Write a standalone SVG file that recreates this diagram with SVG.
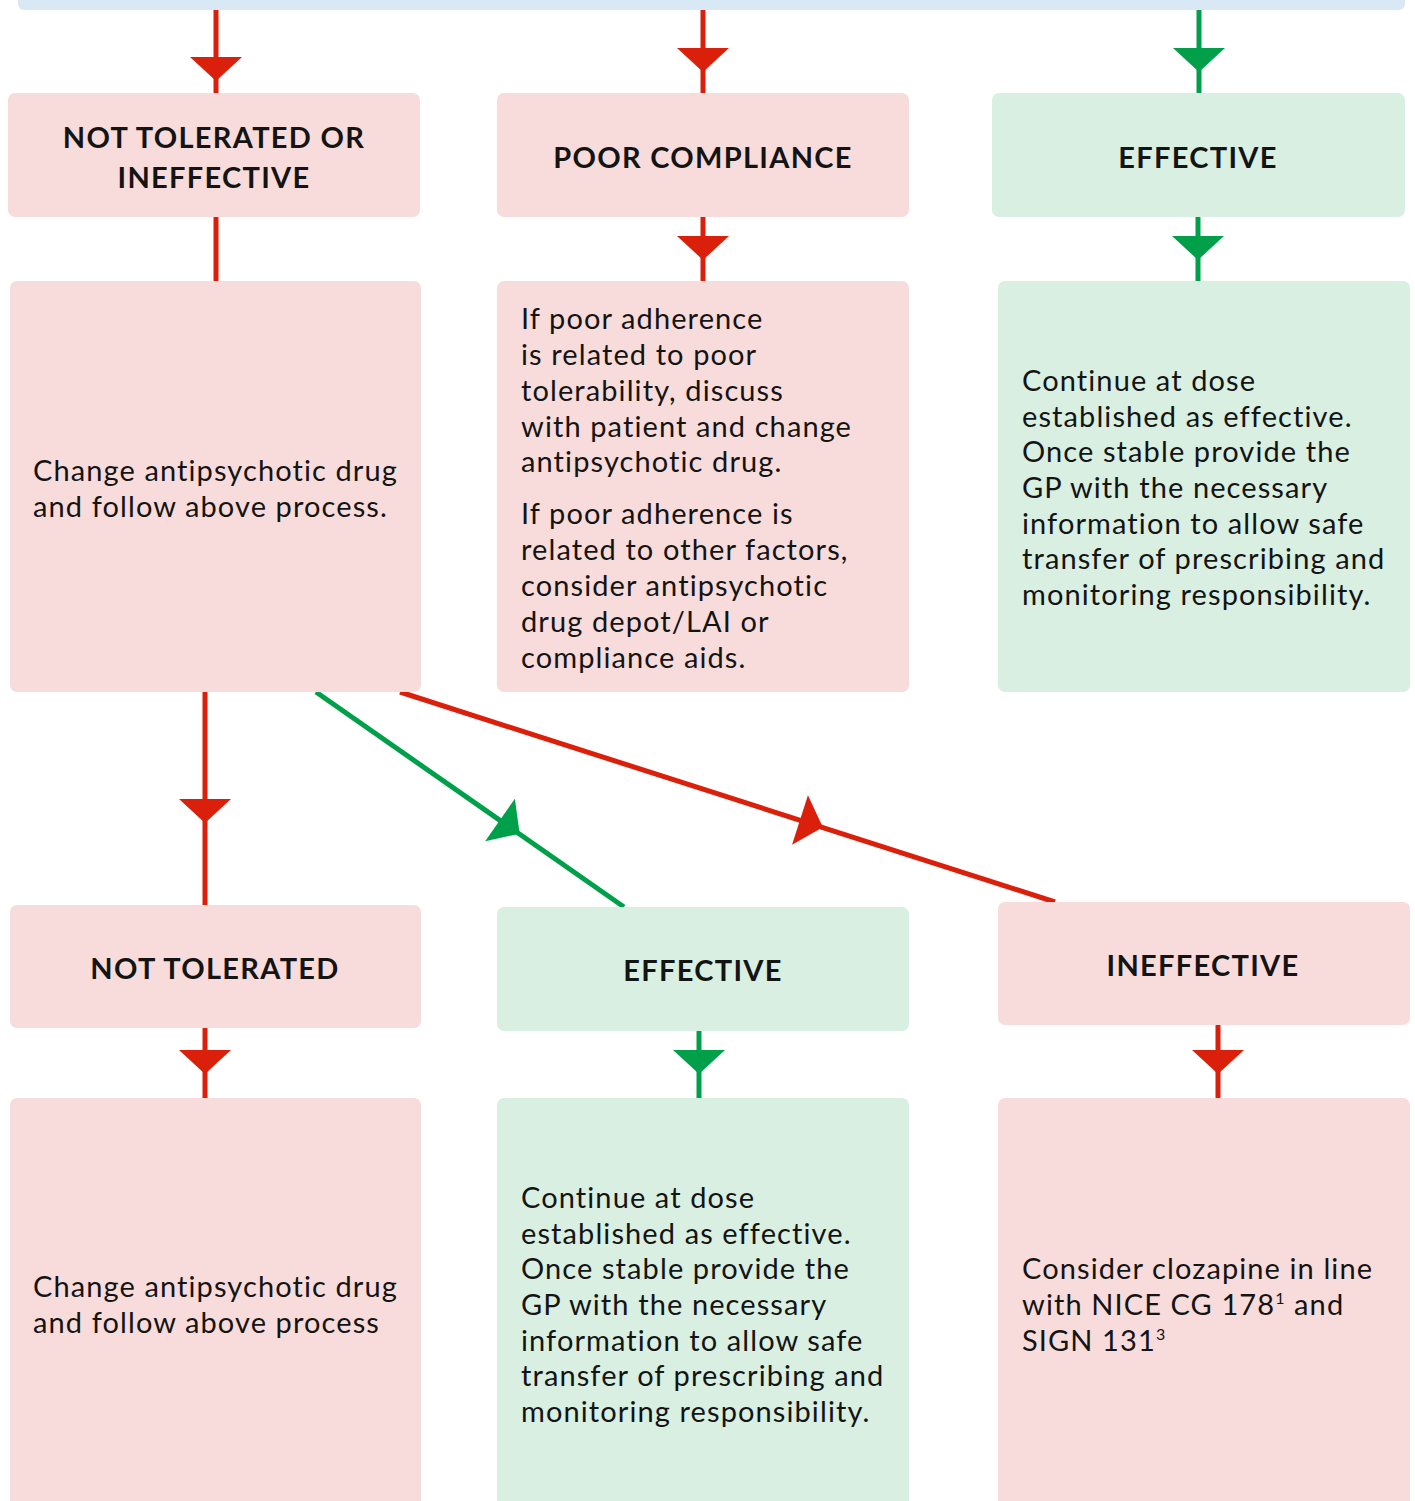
<svg xmlns="http://www.w3.org/2000/svg" xmlns:xlink="http://www.w3.org/1999/xlink" width="1415" height="1501" viewBox="0 0 1415 1501">
<style>
.bg{fill:#ffffff}
.bar{fill:#d9e8f5}
.pink{fill:#f8dcdb}
.green{fill:#d8efe2}
.rl{stroke:#da1f0b;stroke-width:5;fill:none}
.gl{stroke:#00a04a;stroke-width:5;fill:none}
.rh{fill:#da1f0b}
.gh{fill:#00a04a}
.h{font-family:Lato,"Liberation Sans",sans-serif;font-weight:bold;font-size:29px;letter-spacing:1.3px;fill:#141414;text-anchor:middle}
.t{font-family:Lato,"Liberation Sans",sans-serif;font-size:29px;letter-spacing:1.1px;fill:#141414}
</style>
<defs>
<path id="ah" d="M-26,0 L26,0 L0,24 Z"/>
</defs>
<rect class="bg" x="0" y="0" width="1415" height="1501"/>
<g id="top-bar"><rect class="bar" x="18" y="-20" width="1387" height="30" rx="6"/></g>
<g id="connectors">
<line class="rl" x1="216" y1="10" x2="216" y2="93"/>
<use href="#ah" class="rh" transform="translate(216,57)"/>
<line class="rl" x1="703" y1="10" x2="703" y2="93"/>
<use href="#ah" class="rh" transform="translate(703,48)"/>
<line class="gl" x1="1199" y1="10" x2="1199" y2="93"/>
<use href="#ah" class="gh" transform="translate(1199,48)"/>
<line class="rl" x1="216" y1="217" x2="216" y2="281"/>
<line class="rl" x1="703" y1="217" x2="703" y2="281"/>
<use href="#ah" class="rh" transform="translate(703,236)"/>
<line class="gl" x1="1198" y1="217" x2="1198" y2="281"/>
<use href="#ah" class="gh" transform="translate(1198,236)"/>
<line class="rl" x1="205" y1="692" x2="205" y2="905"/>
<use href="#ah" class="rh" transform="translate(205,799)"/>
<line class="gl" x1="316" y1="692" x2="624" y2="907"/>
<use href="#ah" class="gh" transform="translate(500,820) rotate(-55.1)"/>
<line class="rl" x1="400" y1="692" x2="1055" y2="902"/>
<use href="#ah" class="rh" transform="translate(800,820) rotate(-72.2)"/>
<line class="rl" x1="205" y1="1028" x2="205" y2="1098"/>
<use href="#ah" class="rh" transform="translate(205,1050)"/>
<line class="gl" x1="699" y1="1031" x2="699" y2="1098"/>
<use href="#ah" class="gh" transform="translate(699,1050)"/>
<line class="rl" x1="1218" y1="1025" x2="1218" y2="1098"/>
<use href="#ah" class="rh" transform="translate(1218,1050)"/>
</g>
<g id="n-not-tolerated-or-ineffective">
<rect class="pink" x="8" y="93" width="412" height="124" rx="7"/>
<text class="h" x="214" y="148">NOT TOLERATED OR</text>
<text class="h" x="214" y="188">INEFFECTIVE</text>
</g>
<g id="n-poor-compliance">
<rect class="pink" x="497" y="93" width="412" height="124" rx="7"/>
<text class="h" x="703" y="168">POOR COMPLIANCE</text>
</g>
<g id="n-effective-1">
<rect class="green" x="992" y="93" width="413" height="124" rx="7"/>
<text class="h" x="1198" y="168">EFFECTIVE</text>
</g>
<g id="n-change-1">
<rect class="pink" x="10" y="281" width="411" height="411" rx="7"/>
<text class="t" x="33" y="481">Change antipsychotic drug</text>
<text class="t" x="33" y="517">and follow above process.</text>
</g>
<g id="n-adherence">
<rect class="pink" x="497" y="281" width="412" height="411" rx="7"/>
<text class="t" x="521" y="329">If poor adherence</text>
<text class="t" x="521" y="365">is related to poor</text>
<text class="t" x="521" y="401">tolerability, discuss</text>
<text class="t" x="521" y="437">with patient and change</text>
<text class="t" x="521" y="472">antipsychotic drug.</text>
<text class="t" x="521" y="524">If poor adherence is</text>
<text class="t" x="521" y="560">related to other factors,</text>
<text class="t" x="521" y="596">consider antipsychotic</text>
<text class="t" x="521" y="632">drug depot/LAI or</text>
<text class="t" x="521" y="668">compliance aids.</text>
</g>
<g id="n-continue-1">
<rect class="green" x="998" y="281" width="412" height="411" rx="7"/>
<text class="t" x="1022" y="391">Continue at dose</text>
<text class="t" x="1022" y="427">established as effective.</text>
<text class="t" x="1022" y="462">Once stable provide the</text>
<text class="t" x="1022" y="498">GP with the necessary</text>
<text class="t" x="1022" y="534">information to allow safe</text>
<text class="t" x="1022" y="569">transfer of prescribing and</text>
<text class="t" x="1022" y="605">monitoring responsibility.</text>
</g>
<g id="n-not-tolerated">
<rect class="pink" x="10" y="905" width="411" height="123" rx="7"/>
<text class="h" x="215" y="979">NOT TOLERATED</text>
</g>
<g id="n-effective-2">
<rect class="green" x="497" y="907" width="412" height="124" rx="7"/>
<text class="h" x="703" y="981">EFFECTIVE</text>
</g>
<g id="n-ineffective">
<rect class="pink" x="998" y="902" width="412" height="123" rx="7"/>
<text class="h" x="1203" y="976">INEFFECTIVE</text>
</g>
<g id="n-change-2">
<rect class="pink" x="10" y="1098" width="411" height="430" rx="7"/>
<text class="t" x="33" y="1297">Change antipsychotic drug</text>
<text class="t" x="33" y="1333">and follow above process</text>
</g>
<g id="n-continue-2">
<rect class="green" x="497" y="1098" width="412" height="430" rx="7"/>
<text class="t" x="521" y="1208">Continue at dose</text>
<text class="t" x="521" y="1244">established as effective.</text>
<text class="t" x="521" y="1279">Once stable provide the</text>
<text class="t" x="521" y="1315">GP with the necessary</text>
<text class="t" x="521" y="1351">information to allow safe</text>
<text class="t" x="521" y="1386">transfer of prescribing and</text>
<text class="t" x="521" y="1422">monitoring responsibility.</text>
</g>
<g id="n-clozapine">
<rect class="pink" x="998" y="1098" width="412" height="430" rx="7"/>
<text class="t" x="1022" y="1279">Consider clozapine in line</text>
<text class="t" x="1022" y="1315">with NICE CG 178<tspan font-size="16" dy="-11">1</tspan><tspan dy="11"> and</tspan></text>
<text class="t" x="1022" y="1351">SIGN 131<tspan font-size="16" dy="-11">3</tspan></text>
</g>
</svg>
